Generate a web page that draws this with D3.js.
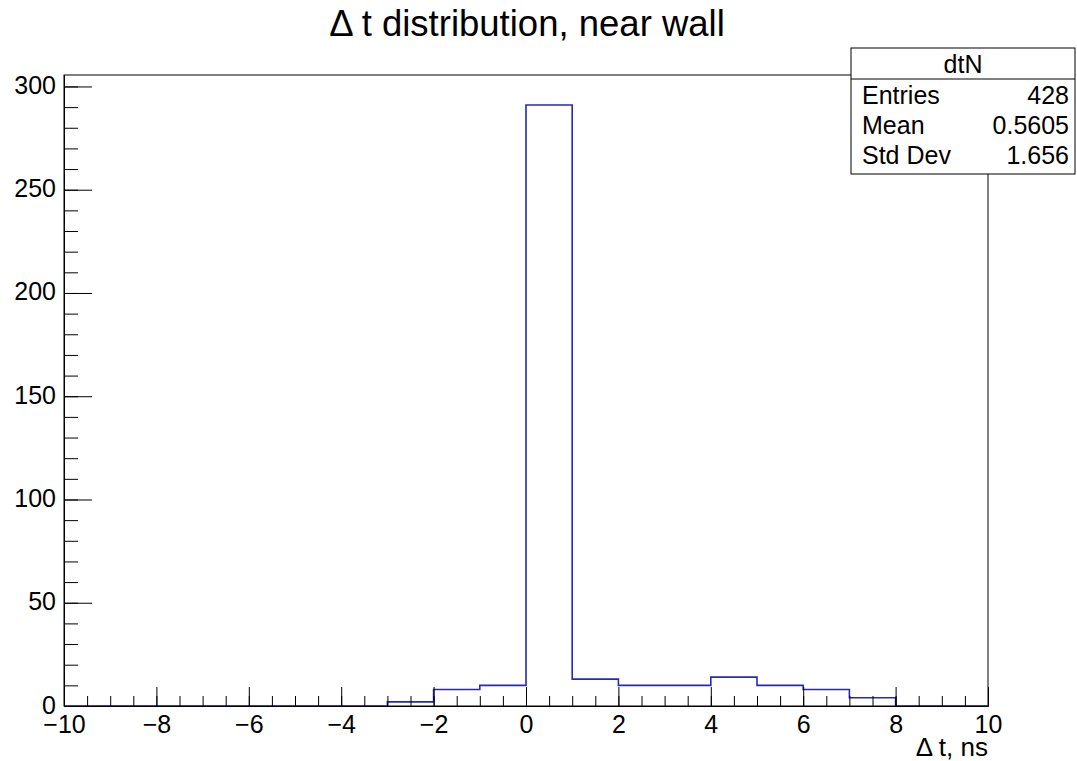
<!DOCTYPE html>
<html>
<head>
<meta charset="utf-8">
<script src="https://cdn.jsdelivr.net/npm/d3@7"></script>
<style>
  html, body { margin: 0; padding: 0; background: #fff; }
  svg { display: block; }
  text { font-family: "Liberation Sans", Arial, Helvetica, sans-serif; fill: #000; }
</style>
</head>
<body>
<script>
// ---- data ----
const binLow = [-10, -9, -8, -7, -6, -5, -4, -3, -2, -1, 0, 1, 2, 3, 4, 5, 6, 7, 8, 9];
const counts = [0, 0, 0, 0, 0, 0, 0, 2, 8, 10, 291, 13, 10, 10, 14, 10, 8, 4, 0, 0];
const binWidth = 1;
const xMajorTicks = [-10, -8, -6, -4, -2, 0, 2, 4, 6, 8, 10];
const yMajorTicks = [0, 50, 100, 150, 200, 250, 300];
const titleText = "\u0394 t distribution, near wall";
const xTitle = "\u0394 t, ns";
const statsName = "dtN";
const statsLabels = ["Entries", "Mean", "Std Dev"];
const statsValues = ["428", "0.5605", "1.656"];

const W = 1077, H = 761;
const L = 64, R = 988, T = 75, B = 706;

const svg = d3.select("body").append("svg").attr("width", W).attr("height", H);

const x = d3.scaleLinear().domain([-10, 10]).range([L, R]);
const yMax = d3.max(counts) * 1.05;
const y = d3.scaleLinear().domain([0, yMax]).range([B, T]);

// frame
svg.append("rect").attr("x", L).attr("y", T).attr("width", R - L).attr("height", B - T)
  .attr("fill", "none").attr("stroke", "#000").attr("stroke-width", 1);

// histogram outline
const pts = [[-10, 0]];
binLow.forEach((b, i) => pts.push([b, counts[i]]));
pts.push([binLow[binLow.length - 1] + binWidth, counts[counts.length - 1]]);
pts.push([binLow[binLow.length - 1] + binWidth, 0]);
const line = d3.line().x(d => x(d[0])).y(d => y(d[1])).curve(d3.curveStepAfter);
svg.append("path").attr("d", line(pts)).attr("fill", "none")
  .attr("stroke", "#2828b4").attr("stroke-width", 1.6);

// x axis
const xMinor = d3.range(-10, 10.001, 0.5);
svg.append("g").attr("transform", `translate(0,${B})`)
  .call(d3.axisBottom(x).tickValues(xMinor).tickSizeInner(-10).tickSizeOuter(0).tickFormat(""));
const gx = svg.append("g").attr("transform", `translate(0,${B})`)
  .call(d3.axisBottom(x).tickValues(xMajorTicks).tickSizeInner(-19).tickSizeOuter(0).tickPadding(9));
gx.selectAll("text").style("font-size", "25px").style("font-family", "'Liberation Sans', Arial, sans-serif");

// y axis
const yMinor = d3.range(0, 301, 10);
svg.append("g").attr("transform", `translate(${L},0)`)
  .call(d3.axisLeft(y).tickValues(yMinor).tickSizeInner(-14).tickSizeOuter(0).tickFormat(""));
const gy = svg.append("g").attr("transform", `translate(${L},0)`)
  .call(d3.axisLeft(y).tickValues(yMajorTicks).tickSizeInner(-28).tickSizeOuter(0).tickPadding(8));
gy.selectAll("text").style("font-size", "25px").attr("dy", "0.28em")
  .style("font-family", "'Liberation Sans', Arial, sans-serif");

svg.selectAll(".domain").attr("stroke", "#000");
svg.selectAll(".tick line").attr("stroke", "#000");

// title
svg.append("text").attr("x", 527).attr("y", 36).attr("text-anchor", "middle")
  .style("font-size", "36.5px").text(titleText);

// x title
svg.append("text").attr("x", R).attr("y", 756).attr("text-anchor", "end")
  .style("font-size", "26px").text(xTitle);

// stats box
const bx = 851, by = 48, bw = 224, bh = 126;
svg.append("rect").attr("x", bx).attr("y", by).attr("width", bw).attr("height", bh)
  .attr("fill", "#fff").attr("stroke", "#000").attr("stroke-width", 1);
svg.append("line").attr("x1", bx).attr("x2", bx + bw).attr("y1", 79).attr("y2", 79)
  .attr("stroke", "#000");
svg.append("text").attr("x", bx + bw / 2).attr("y", 73).attr("text-anchor", "middle")
  .style("font-size", "25px").text(statsName);
statsLabels.forEach((lab, i) => {
  const yy = 104 + i * 30;
  svg.append("text").attr("x", 862).attr("y", yy).style("font-size", "25px").text(lab);
  svg.append("text").attr("x", 1069).attr("y", yy).attr("text-anchor", "end")
    .style("font-size", "25px").text(statsValues[i]);
});
</script>
</body>
</html>
